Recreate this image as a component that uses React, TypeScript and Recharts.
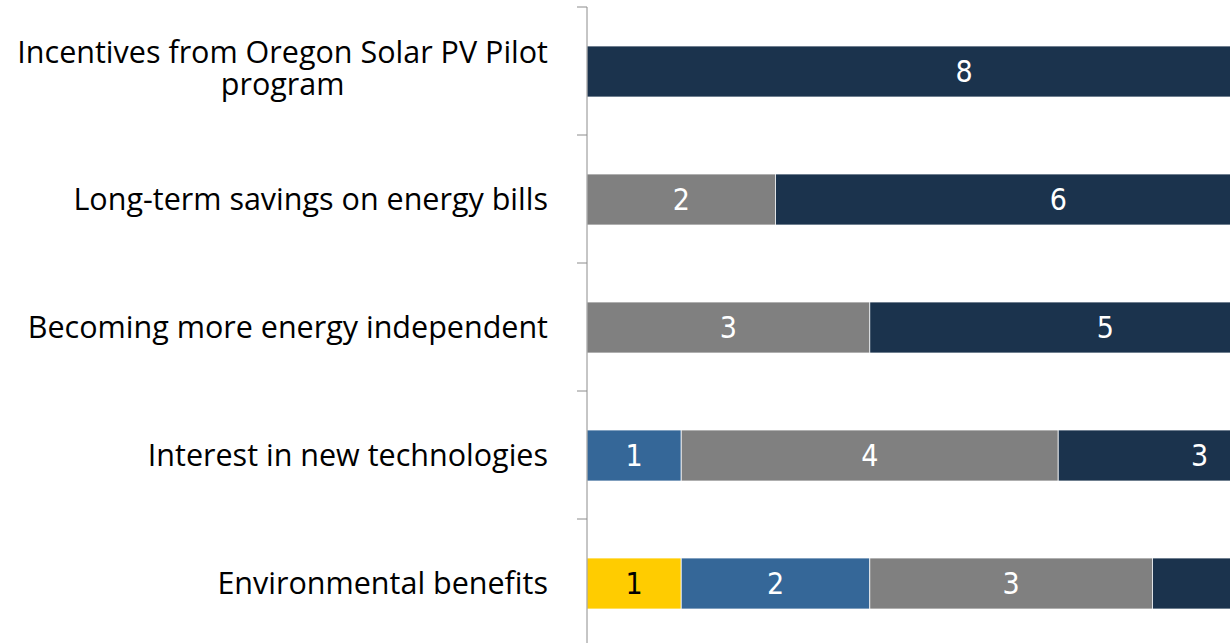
import React from "react"
import { BarChart, Bar, XAxis, YAxis, LabelList } from "recharts"

const categories = [
    "Incentives from Oregon Solar PV Pilot program",
    "Long-term savings on energy bills",
    "Becoming more energy independent",
    "Interest in new technologies",
    "Environmental benefits",
]
const notImportant = [0, 0, 0, 0, 1]
const somewhatImportant = [0, 0, 0, 1, 2]
const important = [0, 2, 3, 4, 3]
const veryImportant = [8, 6, 5, 3, 2]

const data = categories.map((name, i) => ({
    name,
    notImportant: notImportant[i],
    somewhatImportant: somewhatImportant[i],
    important: important[i],
    veryImportant: veryImportant[i],
}))

const CHART_W = 1345
const CHART_H = 650
const MARGIN = { top: 7, right: 4, bottom: 3, left: 0 }
const AXIS_W = 587
const TICK_SIZE = 10
const TICK_MARGIN = 29
const LABEL_FONT = '"Open Sans", sans-serif'
const LABEL_SIZE = 30.5
const LINE_H = 32
const VALUE_FONT = '"Liberation Sans Narrow", "DejaVu Sans Condensed", Roboto, sans-serif'
const AXIS_COLOR = "#8c8c8c"

// height of one category band, used for the between-category tick marks
const band = (CHART_H - MARGIN.top - MARGIN.bottom) / categories.length

let ctx: CanvasRenderingContext2D | null = null
function measure(text: string) {
    if (!ctx) ctx = document.createElement("canvas").getContext("2d")
    if (!ctx) return text.length * LABEL_SIZE * 0.5
    ctx.font = `${LABEL_SIZE}px ${LABEL_FONT}`
    return ctx.measureText(text).width
}

function wrap(text: string, max: number) {
    const lines: string[] = []
    let cur = ""
    for (const w of text.split(" ")) {
        const next = cur ? cur + " " + w : w
        if (cur && measure(next) > max) {
            lines.push(cur)
            cur = w
        } else {
            cur = next
        }
    }
    if (cur) lines.push(cur)
    return lines
}

function CategoryTick(props: any) {
    const { x, y, payload } = props
    const lines = wrap(String(payload.value), 545)
    const widest = Math.max(...lines.map(measure))
    const cx = x - widest / 2
    const axisX = x + TICK_MARGIN + TICK_SIZE
    const top = y - band / 2
    return (
        <g>
            <line x1={axisX - TICK_SIZE} x2={axisX} y1={top} y2={top} stroke={AXIS_COLOR} />
            <text
                textAnchor="middle"
                fill="#000"
                fontSize={LABEL_SIZE}
                fontFamily={LABEL_FONT}
            >
                {lines.map((l, i) => (
                    <tspan key={i} x={cx} y={y + (i - (lines.length - 1) / 2) * LINE_H - (lines.length > 1 ? 3 : 0)} dy="0.35em">
                        {l}
                    </tspan>
                ))}
            </text>
        </g>
    )
}

const hideZero = (v: any) => (v ? v : "")

export default function App() {
    return (
        <div
            style={{
                position: "fixed",
                left: 0,
                top: 0,
                width: 1230,
                height: 643,
                overflow: "hidden",
                background: "#fff",
            }}
        >
            <BarChart
                width={CHART_W}
                height={CHART_H}
                data={data}
                layout="vertical"
                margin={MARGIN}
                barSize={51}
            >
                <XAxis type="number" domain={[0, 8]} hide />
                <YAxis
                    type="category"
                    dataKey="name"
                    width={AXIS_W}
                    tickLine={false}
                    tickSize={TICK_SIZE}
                    tickMargin={TICK_MARGIN}
                    axisLine={{ stroke: AXIS_COLOR }}
                    interval={0}
                    tick={<CategoryTick />}
                />
                <Bar dataKey="notImportant" name="Not important" stackId="a" fill="#ffcc00" stroke="#ffffff" strokeWidth={0.75} isAnimationActive={false}>
                    <LabelList dataKey="notImportant" position="center" fill="#000" fontSize={30} fontFamily={VALUE_FONT} formatter={hideZero} />
                </Bar>
                <Bar dataKey="somewhatImportant" name="Somewhat important" stackId="a" fill="#356798" stroke="#ffffff" strokeWidth={0.75} isAnimationActive={false}>
                    <LabelList dataKey="somewhatImportant" position="center" fill="#fff" fontSize={30} fontFamily={VALUE_FONT} formatter={hideZero} />
                </Bar>
                <Bar dataKey="important" name="Important" stackId="a" fill="#808080" stroke="#ffffff" strokeWidth={0.75} isAnimationActive={false}>
                    <LabelList dataKey="important" position="center" fill="#fff" fontSize={30} fontFamily={VALUE_FONT} formatter={hideZero} />
                </Bar>
                <Bar dataKey="veryImportant" name="Very important" stackId="a" fill="#1b334d" stroke="#ffffff" strokeWidth={0.75} isAnimationActive={false}>
                    <LabelList dataKey="veryImportant" position="center" fill="#fff" fontSize={30} fontFamily={VALUE_FONT} formatter={hideZero} />
                </Bar>
            </BarChart>
        </div>
    )
}
